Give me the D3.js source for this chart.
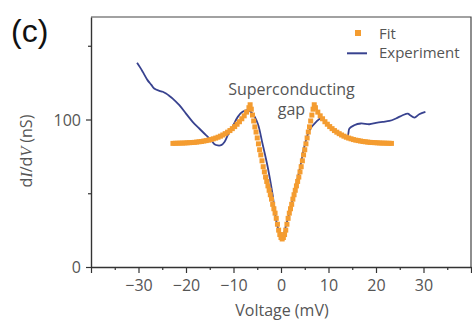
<!DOCTYPE html>
<html>
<head>
<meta charset="utf-8">
<script src="https://cdn.jsdelivr.net/npm/d3@7"></script>
<style>
    body { margin: 0; background: #fff; }
    svg { display: block; }
</style>
</head>
<body>
<script>
// Experiment (blue line): voltage in mV, dI/dV in nS
let expVoltage = [-30.3, -29.6, -29.1, -28.1, -27.3, -26.7, -25.6, -24.9, -24.2, -23.5, -22.8, -21.4,
    -20.0, -18.6, -17.2, -15.8, -14.7, -14.0, -13.3, -12.6, -11.9, -11.2, -10.2, -9.1, -8.1, -7.0,
    -6.0, -4.9, -3.9, -2.8, -1.8, -0.7, 0.3, 1.2, 2.4, 3.9, 4.9, 6.0, 7.4, 8.4, 9.2, 10.2, 11.2,
    12.2, 13.2, 14.0, 14.4, 15.4, 16.8, 18.6, 20.0, 21.4, 22.8, 24.2, 25.6, 26.7, 27.2, 28.1, 29.1, 30.4];
let expConductance = [138.5, 135, 132.3, 126.7, 123.5, 121, 119.4, 118.8, 117.6, 116, 114.2, 109.7,
    104, 98.4, 93.9, 89.4, 86, 83.2, 82.4, 82.6, 84.8, 89.4, 95, 101.8, 105.2, 106.3,
    104, 97.3, 83.7, 67.8, 49.8, 27.1, 21, 30, 45.2, 65.6, 81.4, 92.7, 98.4, 100.7, 99, 95.5, 92.5,
    90.5, 89, 88.5, 93.9, 96.1, 97.3, 96.8, 97.7, 98.4, 99, 100.7, 102.9, 104, 102.9, 101.3, 103.6, 105.2];

// Fit (orange squares)
let fitVoltage = [-22.75, -22.25, -21.75, -21.25, -20.75, -20.25, -19.75, -19.25, -18.75, -18.25,
    -17.75, -17.25, -16.75, -16.25, -15.75, -15.25, -14.75, -14.25, -13.75, -13.25, -12.75, -12.25,
    -11.75, -11.25, -10.75, -10.25, -9.75, -9.25, -8.75, -8.25, -7.75, -7.25, -6.75, -6.5, -6.25,
    -6.0, -5.75, -5.5, -5.25, -5.0, -4.75, -4.5, -4.25, -4.0, -3.75, -3.5, -3.25, -3.0, -2.75, -2.5,
    -2.25, -2.0, -1.75, -1.5, -1.25, -1.0, -0.75, -0.5, -0.25, 0, 0.25,
    0.5, 0.75, 1.0, 1.25, 1.5, 1.75, 2.0, 2.25, 2.5, 2.75, 3.0, 3.25, 3.5, 3.75, 4.0, 4.25, 4.5,
    4.75, 5.0, 5.25, 5.5, 5.75, 6.0, 6.25, 6.5, 6.75, 7.0, 7.25, 7.75, 8.25, 8.75, 9.25, 9.75,
    10.25, 10.75, 11.25, 11.75, 12.25, 12.75, 13.25, 13.75, 14.25, 14.75, 15.25, 15.75, 16.25,
    16.75, 17.25, 17.75, 18.25, 18.75, 19.25, 19.75, 20.25, 20.75, 21.25, 21.75, 22.25, 22.75, 23.25];
let fitConductance = [83.8, 83.9, 83.9, 84, 84, 84.1, 84.2, 84.3, 84.4, 84.5,
    84.7, 84.9, 85.1, 85.4, 85.7, 86, 86.4, 86.9, 87.4, 88, 88.7, 89.5,
    90.4, 91.4, 92.5, 93.8, 95.2, 96.8, 98.5, 100.5, 102.5, 105, 108, 110, 107,
    103, 99, 95, 91.5, 87.5, 83.5, 79.5, 76, 72, 68, 64.5, 61, 58, 55, 52,
    49, 46, 42.5, 39.5, 36.5, 33, 29, 25, 22, 20, 19,
    20, 22, 25, 29, 33, 36.5, 39.5, 42.5, 46, 49, 52, 55, 58, 61, 64.5, 68, 72,
    76, 79.5, 83.5, 87.5, 91.5, 95, 99, 103, 107, 110, 108, 105, 102.5, 100.5, 98.5, 96.8,
    95.2, 93.8, 92.5, 91.4, 90.4, 89.5, 88.7, 88, 87.4, 86.9, 86.4, 86, 85.7,
    85.4, 85.1, 84.9, 84.7, 84.5, 84.4, 84.3, 84.2, 84.1, 84, 84, 83.9, 83.9, 83.8];

let xMajorTicks = [-40, -30, -20, -10, 0, 10, 20, 30, 40];
let xMinorTicks = [-35, -25, -15, -5, 5, 15, 25, 35];
let xTickLabels = ["−30", "−20", "−10", "0", "10", "20", "30"];
let yMajorTicks = [0, 100];
let yMinorTicks = [50, 150];

let svgWidth = 472,
    svgHeight = 322,
    plot = {left: 91, right: 471, top: 17, bottom: 267},
    blue = "#38428f",
    orange = "#f49c30",
    textColor = "#555",
    font = "'Open Sans', sans-serif";

let svg = d3.select("body").append("svg")
    .attr("width", svgWidth)
    .attr("height", svgHeight);

let xScale = d3.scaleLinear().domain([-40, 40]).range([plot.left, plot.right]);
let yScale = d3.scaleLinear().domain([0, 169.5]).range([plot.bottom, plot.top]);

// frame (top and right)
svg.append("path")
    .attr("d", "M" + plot.left + "," + plot.top + "H" + plot.right + "V" + plot.bottom)
    .attr("fill", "none")
    .attr("stroke", "#444")
    .attr("stroke-width", 1.2);

// x axis
let xAxis = svg.append("g")
    .attr("transform", "translate(0," + plot.bottom + ")")
    .call(d3.axisBottom(xScale).tickValues(xMajorTicks).tickSize(6).tickSizeOuter(0)
        .tickFormat(d => (d === -40 || d === 40) ? "" : xTickLabels[xMajorTicks.indexOf(d) - 1]));
svg.append("g")
    .attr("transform", "translate(0," + plot.bottom + ")")
    .call(d3.axisBottom(xScale).tickValues(xMinorTicks).tickSize(3).tickSizeOuter(0).tickFormat(""))
    .call(g => g.select(".domain").remove());

// y axis
let yAxis = svg.append("g")
    .attr("transform", "translate(" + plot.left + ",0)")
    .call(d3.axisLeft(yScale).tickValues(yMajorTicks).tickSize(5).tickSizeOuter(0));
svg.append("g")
    .attr("transform", "translate(" + plot.left + ",0)")
    .call(d3.axisLeft(yScale).tickValues(yMinorTicks).tickSize(3).tickSizeOuter(0).tickFormat(""))
    .call(g => g.select(".domain").remove());

svg.selectAll(".domain").attr("stroke", "#333").attr("stroke-width", 1.4);
svg.selectAll(".tick line").attr("stroke", "#333").attr("stroke-width", 1.2);
svg.selectAll(".tick text")
    .attr("fill", textColor)
    .style("font-family", font)
    .style("font-size", "16px");
xAxis.selectAll(".tick text").attr("y", 9).attr("dy", "0.95em");
yAxis.selectAll(".tick text").attr("x", -10).attr("dy", "0.35em");

// experiment line
let expPoints = expVoltage.map((v, i) => [v, expConductance[i]]);
svg.append("path")
    .datum(expPoints)
    .attr("d", d3.line().x(d => xScale(d[0])).y(d => yScale(d[1])).curve(d3.curveCatmullRom))
    .attr("fill", "none")
    .attr("stroke", blue)
    .attr("stroke-width", 1.8);

// fit squares
let sq = 5;
svg.append("g").selectAll("rect")
    .data(fitVoltage.map((v, i) => [v, fitConductance[i]]))
    .join("rect")
    .attr("x", d => xScale(d[0]) - sq / 2)
    .attr("y", d => yScale(d[1]) - sq / 2)
    .attr("width", sq)
    .attr("height", sq)
    .attr("fill", orange);

// texts
let texts = svg.append("g").style("font-family", font).attr("fill", textColor);
texts.append("text").attr("x", xScale(2.2)).attr("y", 95).attr("text-anchor", "middle")
    .style("font-size", "16px").text("Superconducting");
texts.append("text").attr("x", xScale(2.2)).attr("y", 115).attr("text-anchor", "middle")
    .style("font-size", "16px").text("gap");
texts.append("text").attr("x", xScale(0.2)).attr("y", 316).attr("text-anchor", "middle")
    .style("font-size", "16px").text("Voltage (mV)");

let yLabel = texts.append("text")
    .attr("transform", "translate(32,151) rotate(-90)")
    .attr("text-anchor", "middle")
    .style("font-size", "16px");
yLabel.append("tspan").text("d");
yLabel.append("tspan").style("font-style", "italic").style("font-family", "'Liberation Serif', serif").text("I");
yLabel.append("tspan").text("/d");
yLabel.append("tspan").style("font-style", "italic").style("font-family", "'Liberation Serif', serif").text("V");
yLabel.append("tspan").text(" (nS)");

// legend
let legend = svg.append("g").style("font-family", font).style("font-size", "15px");
legend.append("rect").attr("x", 355).attr("y", 30).attr("width", 6).attr("height", 6).attr("fill", orange);
legend.append("text").attr("x", 379).attr("y", 38.5).attr("fill", textColor).text("Fit");
legend.append("line").attr("x1", 347).attr("x2", 367).attr("y1", 53.3).attr("y2", 53.3)
    .attr("stroke", blue).attr("stroke-width", 2);
legend.append("text").attr("x", 379).attr("y", 57.5).attr("fill", textColor).text("Experiment");

// panel letter
svg.append("text").attr("x", 11).attr("y", 42)
    .style("font-family", "'Liberation Sans', Arial, sans-serif")
    .style("font-size", "32px")
    .attr("fill", "#111")
    .text("(c)");
</script>
</body>
</html>
